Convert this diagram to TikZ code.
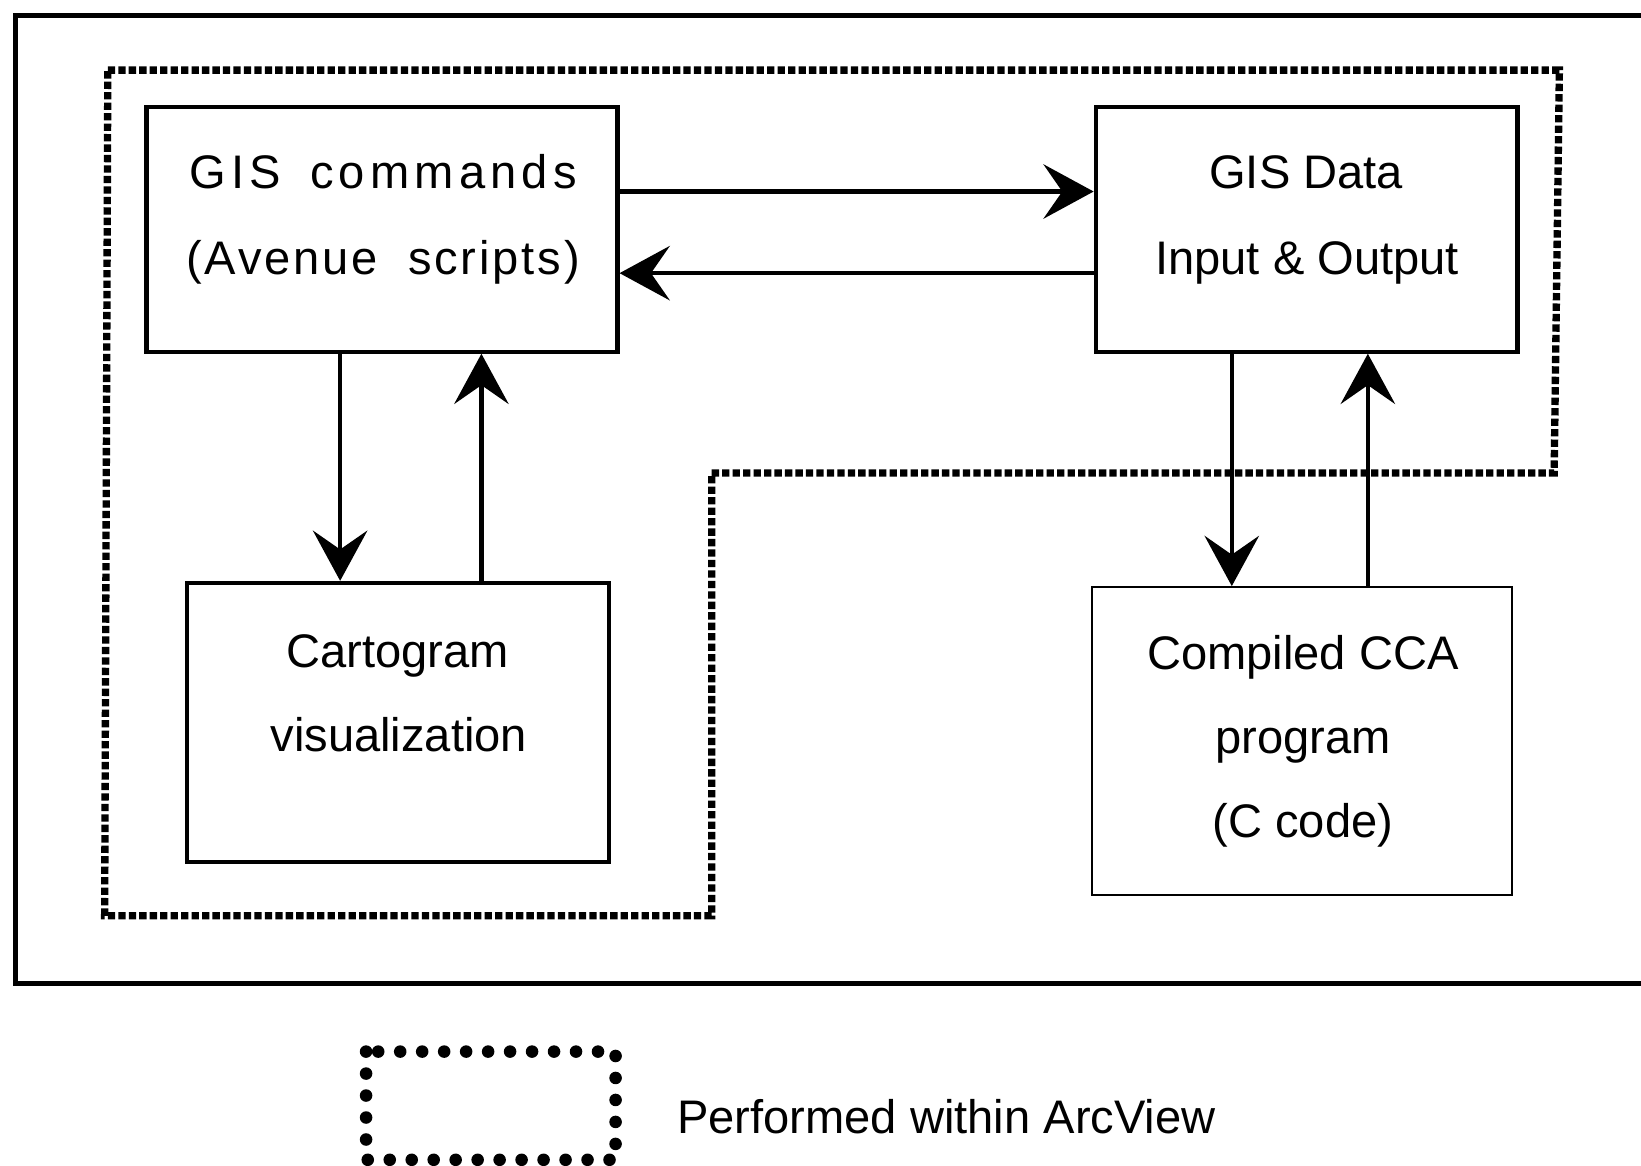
\documentclass[tikz,border=0pt]{standalone}
\usepackage{fontspec}
\setmainfont{Liberation Sans}
\newfontfamily\spacedfont[LetterSpace=6]{Liberation Sans}
\newfontfamily\widefont[LetterSpace=11]{Liberation Sans}
\usetikzlibrary{arrows.meta}
\tikzset{
  x=1pt,y=-1pt,
  box/.style={draw,line width=4pt,rectangle,inner sep=0pt},
  thinbox/.style={draw,line width=2pt,rectangle,inner sep=0pt},
  lbl/.style={anchor=base,inner sep=0pt,font=\fontsize{45}{50}\selectfont},
  slbl/.style={anchor=base,inner sep=0pt,font=\fontsize{45}{50}\selectfont\spacedfont},
  wlbl/.style={anchor=base,inner sep=0pt,font=\fontsize{45}{50}\selectfont\widefont},
  arr/.style={line width=4pt,-{Stealth[length=48pt,width=52pt,inset=18pt]}},
  region/.style={line width=7pt,dash pattern=on 7pt off 3pt},
  legendline/.style={line width=12pt,line cap=round,dash pattern=on 0pt off 21pt},
  frame/.style={line width=5pt}
}
\begin{document}
\begin{tikzpicture}
\useasboundingbox (0,0) rectangle (1568,1114);
% outer frame (open on the right)
\draw[frame] (1580,15) -- (15,15) -- (15,940) -- (1580,940);
% ArcView region
\draw[region] (103,67) -- (1490,67) -- (1485,452) -- (680,452) -- (680,875) -- (100,875) -- cycle;
% boxes
\node[box,minimum width=450pt,minimum height=234pt] (cmd) at (365,219) {};
\node[box,minimum width=403pt,minimum height=234pt] (data) at (1248.5,219) {};
\node[box,minimum width=403pt,minimum height=267pt] (cart) at (380.5,690.5) {};
\node[thinbox,minimum width=402pt,minimum height=294pt] (cca) at (1244,708) {};
% labels
\node[wlbl] (cmd1) at (366,180) {GIS\hspace{28pt}commands};
\node[slbl] (cmd2) at (366,262) {(Avenue\hspace{14pt} scripts)};
\node[lbl] (data1) at (1248,180) {GIS Data};
\node[lbl] (data2) at (1249,262) {Input \& Output};
\node[lbl] (cart1) at (380,638) {Cartogram};
\node[lbl] (cart2) at (381,718) {visualization};
\node[lbl] (cca1) at (1245,640) {Compiled CCA};
\node[lbl] (cca2) at (1245,720) {program};
\node[lbl] (cca3) at (1245,800) {(C code)};
% connectors
\draw[arr] ([yshift=36pt]cmd.east) -- ([yshift=36pt]data.west);
\draw[arr] ([yshift=-42pt]data.west) -- ([yshift=-42pt]cmd.east);
\coordinate (xa) at (325,0);
\coordinate (xb) at (460,0);
\coordinate (xc) at (1177,0);
\coordinate (xd) at (1307,0);
\draw[arr] (cmd.south -| xa) -- (cart.north -| xa);
\draw[arr] (cart.north -| xb) -- (cmd.south -| xb);
\draw[arr] (data.south -| xc) -- (cca.north -| xc);
\draw[arr] (cca.north -| xd) -- (data.south -| xd);
% legend
\node[inner sep=0pt,minimum width=238pt,minimum height=103pt] (leg) at (469,1056.5) {};
\draw[legendline] (leg.north west) rectangle (leg.south east);
\node[lbl,anchor=base west] (legtxt) at (647,1083) {Performed within ArcView};
\end{tikzpicture}
\end{document}
